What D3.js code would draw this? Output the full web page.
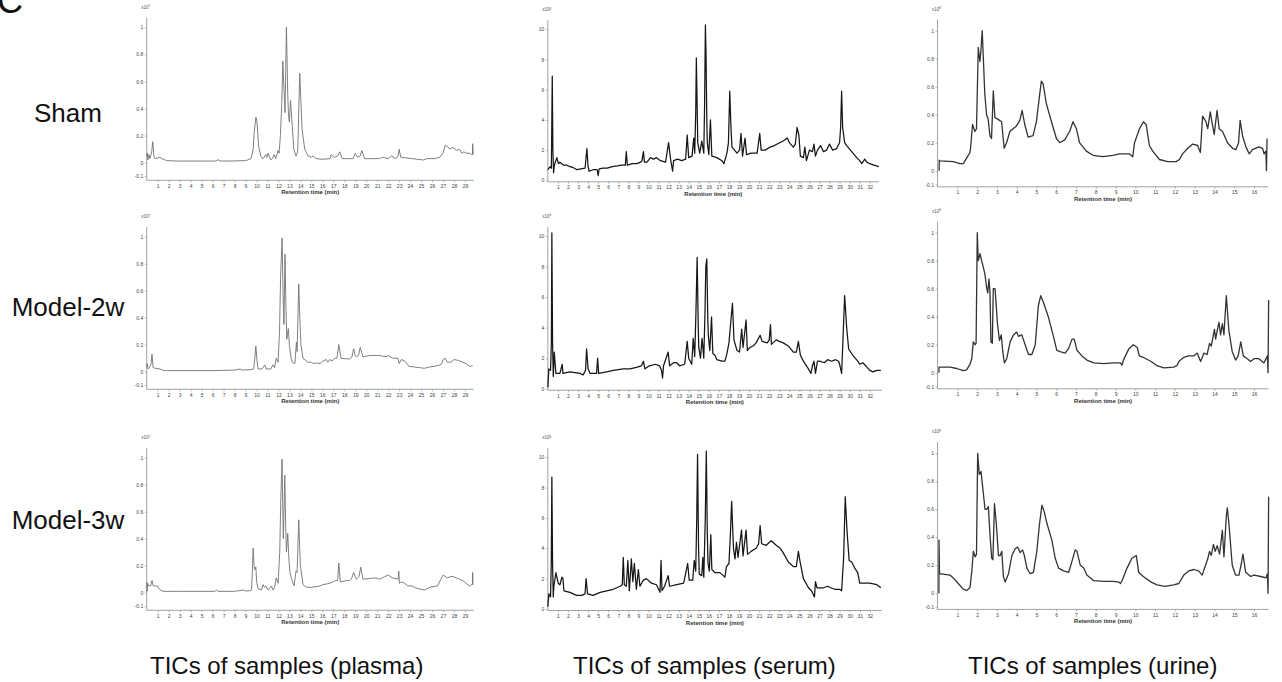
<!DOCTYPE html>
<html>
<head>
<meta charset="utf-8">
<script src="https://cdn.jsdelivr.net/npm/d3@7"></script>
<style>
  html, body { margin: 0; padding: 0; background: #fff; }
  svg { display: block; font-family: "Liberation Sans", Arial, Helvetica, sans-serif; }
</style>
</head>
<body>
<svg id="chart" width="1282" height="682"></svg>
<script>
// ---------------- DATA (retention time in min, intensity) ----------------
const rowLabels = ["Sham", "Model-2w", "Model-3w"];
const colTitles = ["TICs of samples (plasma)", "TICs of samples (serum)", "TICs of samples (urine)"];
const xAxisTitle = "Retention time (min)";
const expPowers = ["7", "6", "8"];

const plasmaTicksY = [-0.1, 0, 0.2, 0.4, 0.6, 0.8, 1];
const serumTicksY = [0, 2, 4, 6, 8, 10];
const urineTicksY = [-0.1, 0, 0.2, 0.4, 0.6, 0.8, 1];
const plasmaTicksX = d3.range(1, 30);
const serumTicksX = d3.range(1, 33);
const urineTicksX = d3.range(1, 17);

const plasmaSham = [[0,0.05],[0.05,0.07],[0.1,0.02],[0.2,0.06],[0.3,0.03],[0.45,0.08],[0.55,0.155],[0.65,0.05],[0.76,0.03],[1.0,0.035],[1.2,0.04],[1.4,0.03],[1.8,0.015],[3,0.012],[5,0.012],[6.3,0.012],[6.5,0.022],[6.7,0.012],[8,0.013],[8.9,0.015],[9.2,0.02],[9.5,0.03],[9.7,0.1],[9.8,0.23],[9.95,0.335],[10.05,0.3],[10.2,0.12],[10.4,0.045],[10.6,0.03],[10.85,0.06],[10.95,0.04],[11.05,0.07],[11.2,0.04],[11.3,0.02],[11.45,0.03],[11.6,0.06],[11.75,0.03],[11.9,0.07],[11.95,0.09],[12.06,0.07],[12.18,0.2],[12.3,0.43],[12.4,0.75],[12.5,0.55],[12.6,0.37],[12.73,1.0],[12.85,0.5],[12.92,0.35],[13.0,0.3],[13.1,0.46],[13.24,0.3],[13.4,0.1],[13.6,0.05],[13.75,0.08],[13.8,0.2],[13.94,0.66],[14.05,0.45],[14.15,0.25],[14.4,0.1],[14.7,0.05],[15.0,0.04],[15.15,0.05],[15.45,0.03],[16.0,0.025],[16.7,0.03],[16.8,0.06],[17.1,0.04],[17.4,0.05],[17.6,0.08],[17.8,0.03],[18.3,0.03],[18.8,0.03],[19.0,0.07],[19.2,0.04],[19.45,0.05],[19.6,0.09],[19.85,0.03],[20.5,0.03],[21.2,0.03],[21.5,0.04],[22.0,0.03],[22.3,0.05],[22.7,0.03],[22.9,0.05],[23.0,0.1],[23.15,0.04],[24.2,0.03],[25.2,0.02],[25.5,0.03],[26.2,0.03],[26.7,0.04],[27.0,0.07],[27.2,0.13],[27.4,0.12],[27.6,0.1],[27.8,0.11],[28.0,0.11],[28.2,0.09],[28.5,0.1],[28.7,0.07],[28.9,0.08],[29.1,0.07],[29.4,0.07],[29.6,0.06],[29.68,0.06],[29.7,0.14],[29.75,0.06]];
const plasma2w = [[0,0.03],[0.05,0.06],[0.12,0.02],[0.25,0.03],[0.4,0.06],[0.48,0.13],[0.58,0.03],[0.8,0.025],[1.2,0.02],[1.5,0.01],[1.8,0.008],[4,0.008],[6,0.008],[7,0.01],[8,0.012],[8.5,0.02],[8.7,0.012],[9.5,0.015],[9.75,0.02],[9.85,0.1],[9.94,0.19],[10.05,0.08],[10.15,0.02],[10.5,0.02],[10.75,0.05],[10.9,0.02],[11.3,0.02],[11.5,0.05],[11.65,0.03],[11.8,0.1],[11.97,0.07],[12.1,0.3],[12.2,0.7],[12.33,0.99],[12.42,0.6],[12.5,0.35],[12.6,0.87],[12.68,0.5],[12.76,0.24],[12.9,0.32],[13.0,0.2],[13.15,0.1],[13.27,0.07],[13.5,0.06],[13.64,0.22],[13.7,0.15],[13.85,0.65],[13.95,0.4],[14.05,0.2],[14.24,0.1],[14.7,0.07],[15.0,0.07],[15.2,0.06],[15.45,0.065],[15.8,0.06],[16.06,0.08],[16.36,0.09],[16.5,0.07],[16.67,0.09],[16.9,0.08],[17.1,0.1],[17.33,0.1],[17.5,0.2],[17.7,0.1],[18.2,0.095],[18.5,0.095],[18.7,0.11],[18.85,0.17],[19.0,0.12],[19.1,0.11],[19.3,0.12],[19.45,0.18],[19.6,0.14],[19.7,0.11],[20.3,0.12],[20.8,0.12],[21.2,0.12],[21.5,0.115],[21.8,0.11],[22.0,0.12],[22.4,0.1],[22.9,0.1],[23.0,0.06],[23.2,0.09],[23.5,0.08],[23.9,0.04],[24.4,0.035],[24.85,0.03],[25.3,0.025],[25.76,0.035],[26.2,0.04],[26.7,0.05],[26.9,0.06],[27.0,0.09],[27.2,0.1],[27.4,0.07],[27.7,0.07],[28.0,0.09],[28.3,0.085],[28.5,0.08],[29.1,0.06],[29.4,0.04],[29.7,0.045]];
const plasma3w = [[0,0.08],[0.03,0.01],[0.08,0.07],[0.2,0.05],[0.35,0.05],[0.48,0.09],[0.6,0.05],[0.8,0.05],[0.97,0.05],[1.1,0.03],[1.27,0.02],[1.5,0.01],[3,0.01],[6.2,0.01],[6.36,0.02],[6.5,0.01],[8,0.01],[8.85,0.02],[9.0,0.012],[9.4,0.015],[9.55,0.02],[9.62,0.15],[9.7,0.33],[9.78,0.2],[9.85,0.17],[9.94,0.19],[10.02,0.08],[10.15,0.03],[10.45,0.02],[10.6,0.06],[10.72,0.04],[10.85,0.05],[11.06,0.02],[11.36,0.05],[11.5,0.02],[11.65,0.04],[11.8,0.11],[11.97,0.07],[12.12,0.3],[12.22,0.7],[12.33,0.99],[12.4,0.6],[12.45,0.4],[12.58,0.87],[12.66,0.5],[12.73,0.3],[12.85,0.44],[12.94,0.27],[13.05,0.15],[13.2,0.1],[13.42,0.05],[13.6,0.16],[13.7,0.15],[13.85,0.54],[13.93,0.35],[14.0,0.2],[14.24,0.06],[14.55,0.04],[15.0,0.04],[15.45,0.045],[15.8,0.05],[16.06,0.06],[16.4,0.065],[16.67,0.07],[16.97,0.08],[17.2,0.09],[17.4,0.09],[17.5,0.22],[17.64,0.08],[18.2,0.09],[18.5,0.09],[18.7,0.11],[18.85,0.15],[19.1,0.1],[19.35,0.12],[19.5,0.19],[19.7,0.1],[20.3,0.105],[20.9,0.11],[21.2,0.1],[21.5,0.11],[21.7,0.12],[22.0,0.13],[22.4,0.11],[22.9,0.1],[22.97,0.16],[23.02,0.07],[23.2,0.08],[23.5,0.07],[23.8,0.05],[24.2,0.05],[24.5,0.035],[25.0,0.025],[25.3,0.02],[25.8,0.04],[26.5,0.05],[26.8,0.1],[27.0,0.13],[27.2,0.12],[27.4,0.11],[27.7,0.12],[27.9,0.12],[28.2,0.11],[28.5,0.1],[28.8,0.09],[29.1,0.07],[29.4,0.05],[29.6,0.06],[29.68,0.06],[29.7,0.15],[29.72,0.06]];

const serumSham = [[0,0.7],[0.1,0.8],[0.24,0.9],[0.35,0.8],[0.44,6.9],[0.5,2.0],[0.57,0.5],[0.65,1.0],[0.74,1.2],[0.9,1.5],[1.05,1.1],[1.2,1.2],[1.57,1.0],[1.9,1.0],[2.2,0.9],[2.5,0.85],[2.9,0.7],[3.3,0.75],[3.7,0.8],[3.88,2.1],[4.0,0.9],[4.1,0.6],[4.5,0.7],[4.9,0.7],[5.0,0.3],[5.1,0.75],[5.5,0.8],[5.9,0.8],[6.4,0.9],[6.9,0.95],[7.3,1.0],[7.7,1.0],[7.8,1.9],[7.9,1.0],[8.4,1.1],[8.86,1.1],[9.2,1.2],[9.36,1.3],[9.5,1.9],[9.6,1.2],[9.86,1.2],[10.2,1.5],[10.5,1.4],[10.8,1.5],[11.2,1.3],[11.7,1.2],[12.0,2.5],[12.2,1.4],[12.4,0.6],[12.5,1.3],[12.9,1.4],[13.3,1.3],[13.7,1.4],[13.85,3.0],[14.0,1.5],[14.33,1.6],[14.5,2.8],[14.6,1.8],[14.7,4.5],[14.76,8.1],[14.85,4.5],[14.9,2.5],[15.1,1.8],[15.3,2.6],[15.5,1.8],[15.58,5.0],[15.66,10.3],[15.72,8.5],[15.8,4.0],[15.85,2.5],[16.0,1.7],[16.16,4.0],[16.3,1.6],[16.8,1.5],[17.3,1.3],[17.5,1.1],[17.8,1.8],[17.95,2.5],[18.08,5.9],[18.2,3.5],[18.3,2.2],[18.8,1.8],[19.05,2.0],[19.2,3.1],[19.35,1.6],[19.6,2.8],[19.75,1.7],[20.2,1.8],[20.5,1.8],[20.8,1.8],[21.06,3.1],[21.2,2.0],[21.6,2.0],[22.1,2.2],[22.5,2.3],[22.8,2.4],[23.1,2.5],[23.4,2.6],[23.8,2.8],[24.0,2.5],[24.4,2.2],[24.6,2.4],[24.77,3.5],[24.95,3.0],[25.1,1.6],[25.4,1.5],[25.55,2.2],[25.7,1.3],[26.0,2.0],[26.3,1.9],[26.45,2.4],[26.6,1.6],[26.8,2.0],[27.1,2.3],[27.4,1.9],[27.7,2.0],[28.0,2.4],[28.3,2.0],[28.7,2.1],[29.0,2.5],[29.1,3.5],[29.2,5.9],[29.3,3.5],[29.5,2.5],[29.7,2.3],[30.2,1.9],[30.7,1.5],[31.0,1.3],[31.2,1.1],[31.5,1.4],[31.7,1.2],[32.0,1.1],[32.4,1.0],[32.9,0.9]];
const serum2w = [[0,0.1],[0.1,1.3],[0.27,1.2],[0.35,3.0],[0.4,10.2],[0.47,3.0],[0.54,0.8],[0.64,2.4],[0.8,1.0],[1.2,1.0],[1.43,1.6],[1.5,1.0],[2.2,1.1],[2.7,1.05],[3.2,1.0],[3.5,0.9],[3.75,1.2],[3.85,2.6],[4.0,1.3],[4.2,1.0],[4.84,1.0],[4.95,2.0],[5.05,1.0],[5.84,1.1],[6.5,1.2],[7.0,1.25],[7.5,1.3],[8.16,1.3],[8.8,1.4],[9.3,1.5],[9.5,1.8],[9.65,1.3],[10.1,1.5],[10.7,1.6],[11.1,1.5],[11.3,1.2],[11.4,0.7],[11.5,1.5],[11.96,2.4],[12.1,1.5],[12.5,1.7],[12.8,1.7],[13.1,1.5],[13.6,1.6],[13.85,3.1],[14.0,2.0],[14.3,1.6],[14.45,3.3],[14.6,2.1],[14.72,5.0],[14.84,8.6],[14.95,4.0],[15.0,2.7],[15.17,2.0],[15.33,3.3],[15.5,2.0],[15.62,5.0],[15.7,8.0],[15.8,8.5],[15.9,4.5],[15.95,3.5],[16.1,2.5],[16.27,4.7],[16.4,2.3],[16.6,2.2],[16.8,1.9],[17.3,1.8],[17.6,1.8],[17.8,2.3],[18.0,3.0],[18.2,4.5],[18.35,5.6],[18.5,3.2],[18.8,2.5],[19.05,2.4],[19.27,3.9],[19.4,2.7],[19.7,4.5],[19.83,2.5],[20.08,2.7],[20.4,2.8],[20.7,3.0],[21.1,3.5],[21.3,3.1],[21.8,3.0],[22.0,3.2],[22.13,4.2],[22.22,2.9],[22.7,3.2],[23.0,3.1],[23.4,3.0],[23.9,2.8],[24.4,2.4],[24.7,2.4],[24.9,3.1],[25.1,2.2],[25.4,1.8],[25.9,1.3],[26.15,1.0],[26.3,1.5],[26.45,1.8],[26.6,1.0],[26.8,1.8],[27.0,1.8],[27.5,1.7],[27.8,1.9],[28.2,1.8],[28.6,1.9],[28.9,1.8],[29.0,1.6],[29.2,1.0],[29.35,3.5],[29.5,6.1],[29.7,4.0],[29.9,2.6],[30.3,2.2],[30.8,1.8],[31.0,1.6],[31.3,1.7],[31.6,1.5],[32.0,1.2],[32.3,1.1],[32.7,1.2],[33.1,1.2]];
const serum3w = [[0,0.15],[0.1,1.0],[0.27,0.8],[0.34,3.0],[0.4,8.7],[0.47,3.0],[0.54,0.8],[0.6,1.5],[0.8,2.4],[0.93,2.0],[1.03,1.7],[1.2,1.6],[1.4,2.1],[1.5,2.0],[1.6,1.2],[2.2,1.1],[2.85,0.9],[3.36,0.9],[3.7,1.0],[3.8,2.0],[3.95,1.0],[4.5,0.9],[5.2,1.1],[5.85,1.2],[6.5,1.3],[7.2,1.5],[7.4,1.6],[7.5,3.4],[7.6,1.6],[7.8,1.5],[7.95,3.2],[8.1,1.2],[8.3,3.3],[8.45,1.8],[8.6,3.0],[8.8,1.3],[9.0,2.6],[9.15,1.5],[9.5,1.9],[9.8,2.0],[10.3,1.7],[10.8,1.6],[11.15,1.1],[11.25,3.2],[11.35,1.2],[11.6,1.5],[11.96,2.2],[12.1,1.5],[12.8,1.6],[13.5,1.7],[13.9,3.0],[14.05,1.9],[14.4,1.9],[14.55,3.2],[14.7,2.5],[14.8,6.0],[14.88,10.2],[14.98,4.0],[15.05,2.3],[15.3,2.2],[15.4,3.4],[15.5,2.1],[15.65,6.0],[15.75,10.4],[15.85,5.0],[15.92,3.0],[16.05,2.5],[16.2,4.9],[16.3,2.6],[16.6,2.4],[17.1,2.4],[17.6,2.1],[17.75,2.8],[18.0,3.0],[18.15,5.0],[18.27,7.1],[18.45,4.0],[18.6,3.3],[18.75,4.4],[18.9,3.4],[19.25,5.2],[19.4,3.5],[19.7,5.2],[19.85,3.6],[20.2,3.8],[20.7,4.0],[20.95,4.3],[21.1,5.5],[21.25,4.3],[21.7,4.2],[22.2,4.5],[22.7,4.2],[23.1,4.0],[23.4,3.7],[23.9,3.1],[24.4,2.8],[24.7,2.8],[24.9,3.8],[25.1,3.0],[25.4,2.0],[25.9,1.4],[26.2,1.2],[26.5,0.8],[26.6,1.8],[26.75,1.4],[27.0,1.4],[27.4,1.4],[27.8,1.5],[28.1,1.4],[28.5,1.3],[28.7,1.3],[29.0,1.3],[29.2,1.2],[29.4,3.4],[29.56,7.4],[29.75,5.0],[29.95,3.2],[30.2,3.1],[30.5,2.7],[30.8,2.4],[31.0,1.7],[31.5,1.7],[32.0,1.7],[32.7,1.6],[33.1,1.4]];

const urineSham = [[0.08,0.0],[0.09,0.075],[0.13,0.07],[0.8,0.065],[1.13,0.05],[1.3,0.05],[1.47,0.09],[1.64,0.13],[1.67,0.16],[1.77,0.33],[1.89,0.28],[1.97,0.3],[2.06,0.88],[2.14,0.78],[2.19,0.85],[2.26,1.0],[2.39,0.55],[2.48,0.4],[2.56,0.37],[2.65,0.25],[2.73,0.23],[2.82,0.57],[2.9,0.38],[3.02,0.37],[3.24,0.35],[3.37,0.16],[3.49,0.2],[3.66,0.28],[3.82,0.3],[3.99,0.32],[4.16,0.36],[4.28,0.43],[4.41,0.33],[4.58,0.24],[4.83,0.25],[5.0,0.35],[5.17,0.55],[5.25,0.64],[5.34,0.62],[5.5,0.48],[5.76,0.35],[6.01,0.23],[6.18,0.2],[6.43,0.22],[6.68,0.28],[6.85,0.35],[7.02,0.3],[7.18,0.2],[7.52,0.14],[7.86,0.11],[8.36,0.1],[8.87,0.11],[9.2,0.12],[9.71,0.12],[9.87,0.1],[9.96,0.2],[10.21,0.3],[10.41,0.35],[10.55,0.33],[10.71,0.18],[10.88,0.14],[11.22,0.08],[11.64,0.065],[12.06,0.065],[12.23,0.08],[12.39,0.12],[12.65,0.16],[12.9,0.19],[13.15,0.18],[13.29,0.13],[13.4,0.39],[13.57,0.35],[13.66,0.3],[13.79,0.42],[13.87,0.35],[13.99,0.26],[14.13,0.43],[14.24,0.3],[14.41,0.28],[14.66,0.2],[14.92,0.16],[15.08,0.15],[15.22,0.2],[15.3,0.36],[15.42,0.25],[15.59,0.17],[15.76,0.12],[15.92,0.15],[16.26,0.17],[16.43,0.16],[16.51,0.12],[16.6,0.14],[16.63,0.0],[16.66,0.23]];
const urine2w = [[0.07,0.0],[0.08,0.04],[0.63,0.04],[0.97,0.03],[1.3,0.015],[1.47,0.02],[1.64,0.06],[1.73,0.1],[1.81,0.22],[1.9,0.2],[1.95,0.21],[2.01,1.0],[2.06,0.8],[2.15,0.85],[2.23,0.8],[2.32,0.75],[2.4,0.7],[2.49,0.6],[2.54,0.57],[2.6,0.67],[2.65,0.58],[2.7,0.22],[2.77,0.21],[2.82,0.6],[2.91,0.6],[3.03,0.35],[3.13,0.23],[3.22,0.27],[3.3,0.15],[3.38,0.07],[3.5,0.1],[3.67,0.22],[3.84,0.27],[4.0,0.29],[4.09,0.26],[4.26,0.27],[4.43,0.2],[4.6,0.13],[4.77,0.13],[4.94,0.2],[5.1,0.48],[5.22,0.55],[5.36,0.5],[5.6,0.4],[5.86,0.26],[6.03,0.16],[6.2,0.15],[6.45,0.14],[6.62,0.17],[6.8,0.24],[6.91,0.24],[7.05,0.16],[7.3,0.12],[7.55,0.09],[7.9,0.07],[8.4,0.065],[8.9,0.07],[9.25,0.07],[9.33,0.055],[9.4,0.09],[9.67,0.17],[9.9,0.2],[10.1,0.18],[10.2,0.12],[10.4,0.11],[10.8,0.08],[11.1,0.05],[11.44,0.035],[11.94,0.04],[12.1,0.05],[12.2,0.08],[12.45,0.11],[12.7,0.12],[12.96,0.12],[13.13,0.14],[13.3,0.08],[13.47,0.14],[13.63,0.13],[13.75,0.21],[13.84,0.19],[14.0,0.31],[14.06,0.24],[14.14,0.3],[14.23,0.36],[14.31,0.27],[14.4,0.35],[14.48,0.27],[14.6,0.55],[14.73,0.3],[14.9,0.15],[15.07,0.09],[15.2,0.12],[15.33,0.22],[15.46,0.12],[15.66,0.1],[15.83,0.08],[16.0,0.1],[16.25,0.1],[16.5,0.07],[16.68,0.12],[16.71,0.0],[16.74,0.52]];
const urine3w = [[0.07,0.0],[0.075,0.38],[0.1,0.14],[0.63,0.13],[0.8,0.11],[1.05,0.07],[1.3,0.03],[1.47,0.02],[1.64,0.04],[1.73,0.15],[1.81,0.3],[1.9,0.26],[1.97,0.28],[2.03,1.0],[2.11,0.85],[2.2,0.87],[2.29,0.75],[2.4,0.6],[2.49,0.6],[2.57,0.62],[2.66,0.4],[2.74,0.25],[2.8,0.24],[2.88,0.64],[2.97,0.5],[3.08,0.27],[3.17,0.27],[3.25,0.3],[3.33,0.12],[3.42,0.08],[3.59,0.14],[3.76,0.27],[3.93,0.32],[4.05,0.33],[4.18,0.29],[4.3,0.31],[4.39,0.27],[4.52,0.18],[4.68,0.14],[4.85,0.15],[5.02,0.3],[5.16,0.5],[5.28,0.63],[5.4,0.58],[5.53,0.5],[5.78,0.38],[5.95,0.25],[6.12,0.18],[6.37,0.16],[6.63,0.15],[6.8,0.23],[6.96,0.31],[7.05,0.3],[7.22,0.2],[7.39,0.18],[7.55,0.13],[7.9,0.09],[8.4,0.085],[8.9,0.085],[9.16,0.08],[9.25,0.07],[9.33,0.09],[9.58,0.18],[9.83,0.25],[10.05,0.27],[10.17,0.15],[10.4,0.12],[10.8,0.08],[11.1,0.06],[11.5,0.05],[11.94,0.06],[12.2,0.07],[12.45,0.13],[12.7,0.16],[12.96,0.17],[13.2,0.16],[13.38,0.13],[13.55,0.2],[13.67,0.25],[13.75,0.3],[13.84,0.27],[13.95,0.35],[14.04,0.3],[14.14,0.34],[14.26,0.28],[14.4,0.45],[14.48,0.26],[14.6,0.55],[14.65,0.61],[14.73,0.5],[14.9,0.2],[15.07,0.13],[15.24,0.13],[15.37,0.22],[15.44,0.28],[15.58,0.15],[15.83,0.12],[16.0,0.13],[16.34,0.12],[16.6,0.11],[16.68,0.14],[16.71,0.0],[16.74,0.69]];

// ---------------- LAYOUT ----------------
const columns = [
  { series: [plasmaSham, plasma2w, plasma3w], ticksX: plasmaTicksX, ticksY: plasmaTicksY,
    xRef: [1, 29], xPx: [157.7, 465.0], xMax: [29.8, 29.8, 29.8], yRefTop: 1,
    yPx: [[162.7, 27.3], [371.7, 236.7], [592.7, 457.7]], yMin: -0.13, yMax: 1.07,
    color: "#727272", lw: 0.9, exp: expPowers[0] },
  { series: [serumSham, serum2w, serum3w], ticksX: serumTicksX, ticksY: serumTicksY,
    xRef: [1, 32], xPx: [557.9, 869.8], xMax: [32.9, 33.2, 33.2], yRefTop: 10,
    yPx: [[180.3, 29.3], [388.7, 236.0], [609.0, 457.3]], yMin: -0.1, yMax: 10.6,
    color: "#161616", lw: 1.25, exp: expPowers[1] },
  { series: [urineSham, urine2w, urine3w], ticksX: urineTicksX, ticksY: urineTicksY,
    xRef: [1, 16], xPx: [957.3, 1254.0], xMax: [16.72, 16.74, 16.74], yRefTop: 1,
    yPx: [[170.7, 30.7], [372.7, 232.7], [593.3, 453.3]], yMin: -0.115, yMax: 1.08,
    color: "#333333", lw: 1.3, exp: expPowers[2] }
];

const svg = d3.select("#chart");
svg.append("rect").attr("width", 1282).attr("height", 682).attr("fill", "#fff");

// panel letter (cropped at the top edge, as in the reference)
svg.append("text").attr("x", -3).attr("y", 13).attr("font-size", 36)
  .attr("fill", "#111").text("C");

// row labels
const rowBaselines = [122, 316, 529];
rowLabels.forEach((lab, i) => {
  svg.append("text").attr("x", 68).attr("y", rowBaselines[i])
    .attr("text-anchor", "middle").attr("font-size", 26).attr("fill", "#111").text(lab);
});

// column titles
const titleX = [150, 573, 968];
colTitles.forEach((t, i) => {
  svg.append("text").attr("x", titleX[i]).attr("y", 674)
    .attr("font-size", 24).attr("fill", "#111").text(t);
});

const fmt = v => (v === 0 ? "0" : String(v));

columns.forEach(col => {
  col.series.forEach((data, r) => {
    const x = d3.scaleLinear().domain(col.xRef).range(col.xPx);
    const y = d3.scaleLinear().domain([0, col.yRefTop]).range(col.yPx[r]);
    const g = svg.append("g");
    const x0 = x(0), xEnd = x(col.xMax[r]);
    const yBot = y(col.yMin), yTop = y(col.yMax);

    // y axis
    const yAxis = d3.axisLeft(y).tickValues(col.ticksY).tickSize(2).tickPadding(1.5).tickFormat(fmt);
    const ga = g.append("g").attr("transform", `translate(${x0},0)`).call(yAxis);
    ga.select(".domain").remove();
    g.append("line").attr("x1", x0).attr("x2", x0).attr("y1", yBot).attr("y2", yTop)
      .attr("stroke", "#8a8a8a").attr("stroke-width", 0.8);

    // x axis
    const xAxis = d3.axisBottom(x).tickValues(col.ticksX).tickSize(2).tickPadding(2).tickFormat(d3.format("d"));
    const gx = g.append("g").attr("transform", `translate(0,${yBot})`).call(xAxis);
    gx.select(".domain").remove();
    g.append("line").attr("x1", x0).attr("x2", xEnd).attr("y1", yBot).attr("y2", yBot)
      .attr("stroke", "#8a8a8a").attr("stroke-width", 0.8);

    [ga, gx].forEach(a => {
      a.selectAll(".tick line").attr("stroke", "#8a8a8a").attr("stroke-width", 0.6);
      a.selectAll(".tick text").attr("font-size", 5).attr("fill", "#444")
        .attr("font-family", "Liberation Sans, Arial, sans-serif");
    });

    // axis title
    g.append("text").attr("x", (x0 + xEnd) / 2).attr("y", yBot + 14)
      .attr("text-anchor", "middle").attr("font-size", 6).attr("font-weight", "bold")
      .attr("fill", "#333").text(xAxisTitle);

    // exponent label
    const et = g.append("text").attr("x", x0 - 5.5).attr("y", yTop - 9)
      .attr("font-size", 4.5).attr("fill", "#555");
    et.append("tspan").text("x10");
    et.append("tspan").attr("dy", -1.6).attr("font-size", 3.2).text(col.exp);

    // trace
    const line = d3.line().x(d => x(d[0])).y(d => y(d[1]));
    g.append("path").datum(data).attr("d", line).attr("fill", "none")
      .attr("stroke", col.color).attr("stroke-width", col.lw).attr("stroke-linejoin", "round");
  });
});
</script>
</body>
</html>
